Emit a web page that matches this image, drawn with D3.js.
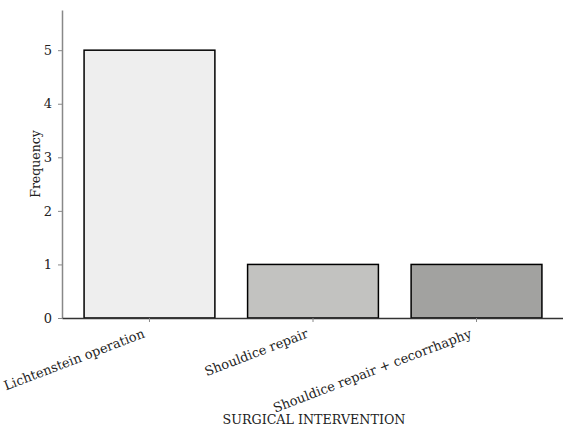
<!DOCTYPE html>
<html>
<head>
<meta charset="utf-8">
<script src="https://cdn.jsdelivr.net/npm/d3@7"></script>
<style>
  body { margin: 0; background: #fff; }
  text { font-family: "DejaVu Serif", serif; }
</style>
</head>
<body>
<svg id="chart"></svg>
<script>
const categories = [
  "Lichtenstein operation",
  "Shouldice repair",
  "Shouldice repair + cecorrhaphy",
];
const frequencies = [5, 1, 1];
const barColors = ["#eeeeee", "#c2c2c0", "#a2a2a0"];
const yTicks = [0, 1, 2, 3, 4, 5];

const width = 563;
const height = 428;
const margin = { top: 10, right: -1, bottom: 110, left: 62 };

const svg = d3.select("#chart").attr("width", width).attr("height", height);

const xScale = d3
  .scaleBand()
  .domain(categories)
  .range([margin.left, width - margin.right])
  .paddingInner(0.2)
  .paddingOuter(0.135);

const yScale = d3
  .scaleLinear()
  .domain([0, 5.75])
  .range([height - margin.bottom, margin.top]);

svg
  .selectAll(".bar")
  .data(categories)
  .enter()
  .append("rect")
  .attr("class", "bar")
  .attr("x", (d) => xScale(d))
  .attr("y", (d, i) => yScale(frequencies[i]))
  .attr("width", xScale.bandwidth())
  .attr("height", (d, i) => yScale(0) - yScale(frequencies[i]))
  .style("fill", (d, i) => barColors[i])
  .style("stroke", "#000")
  .style("stroke-width", 1.5);

// y axis
const yAxis = svg
  .append("g")
  .attr("transform", "translate(" + margin.left + ",0)")
  .call(
    d3.axisLeft(yScale)
      .tickValues(yTicks)
      .tickFormat(d3.format("d"))
      .tickSize(4)
      .tickPadding(6)
      .tickSizeOuter(0)
  );
yAxis.select(".domain").attr("stroke", "#888").attr("stroke-width", 1.5);
yAxis.selectAll(".tick line").attr("stroke", "#888");
yAxis.selectAll(".tick text").attr("fill", "#222").style("font-size", "13px").style("font-family", "DejaVu Serif, serif");

// x axis
const xAxis = svg
  .append("g")
  .attr("transform", "translate(0," + yScale(0) + ")")
  .call(d3.axisBottom(xScale).tickSize(4).tickPadding(4).tickSizeOuter(0));
xAxis.select(".domain").attr("stroke", "#333").attr("stroke-width", 1.5);
xAxis.selectAll(".tick line").attr("stroke", "#888");
xAxis
  .selectAll(".tick text")
  .attr("fill", "#222")
  .style("font-size", "13px")
  .style("font-family", "DejaVu Serif, serif")
  .attr("text-anchor", "end")
  .attr("x", 0)
  .attr("y", 0)
  .attr("dy", 0)
  .attr("transform", "translate(-4,19) rotate(-21)");

svg
  .append("text")
  .attr("transform", "translate(40," + (margin.top + height - margin.bottom) / 2 + ") rotate(-90)")
  .attr("text-anchor", "middle")
  .style("font-size", "12.5px")
  .attr("fill", "#222")
  .text("Frequency");

svg
  .append("text")
  .attr("x", 314)
  .attr("y", 424)
  .attr("text-anchor", "middle")
  .style("font-size", "12.7px")
  .attr("fill", "#222")
  .text("SURGICAL INTERVENTION");
</script>
</body>
</html>
